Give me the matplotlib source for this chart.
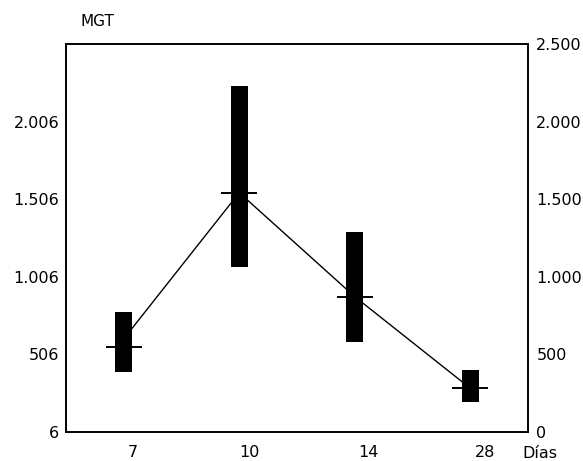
import matplotlib
matplotlib.use("Agg")
import matplotlib.pyplot as plt

# ---- data ----
days = ["7", "10", "14", "28"]
bar_low = [389, 1065, 582, 195]
bar_high = [775, 2229, 1287, 400]
mean_vals = [550, 1542, 872, 282]
line_vals = [600, 1542, 872, 282]

right_ticks = [0, 500, 1000, 1500, 2000, 2500]
right_labels = ["0", "500", "1.000", "1.500", "2.000", "2.500"]
left_ticks = [0, 500, 1000, 1500, 2000]
left_labels = ["6", "506", "1.006", "1.506", "2.006"]

plt.rcParams['font.family'] = ['DejaVu Sans']

fig = plt.figure(figsize=(5.83, 4.61), dpi=100)
ax = fig.add_axes([66 / 583, 29 / 461, 462 / 583, 388 / 461])

pos = list(range(1, len(days) + 1))
bar_w = 0.15
tick_half = 0.155

# connecting line (drawn beneath the bars)
ax.plot(pos, line_vals, color="black", lw=1.0, zorder=1)

# bars
ax.bar(pos, [h - l for h, l in zip(bar_high, bar_low)], bottom=bar_low,
       width=bar_w, color="black", zorder=2)

# mean ticks
ax.hlines(mean_vals, [p - tick_half for p in pos], [p + tick_half for p in pos],
          color="black", lw=1.4, zorder=3)

ax.set_xlim(0.5, 4.5)
ax.set_ylim(0, 2500)

label_offset = [0.08, 0.09, 0.12, 0.13]
ax.set_xticks([p + o for p, o in zip(pos, label_offset)])
ax.set_xticklabels(days, fontsize=11.5)
ax.tick_params(axis="x", length=0, pad=9)

ax.set_yticks(left_ticks)
ax.set_yticklabels(left_labels, fontsize=11.5)
ax.tick_params(axis="y", length=0, pad=5)

ax2 = ax.twinx()
ax2.set_ylim(0, 2500)
ax2.set_yticks(right_ticks)
ax2.set_yticklabels(right_labels, fontsize=11.5)
ax2.tick_params(axis="y", length=0, pad=6)

for a in (ax, ax2):
    for s in a.spines.values():
        s.set_linewidth(1.2)

fig.text(80 / 583, 1 - 22 / 461, "MGT", fontsize=11, ha="left", va="center")
fig.text(540 / 583, 1 - 453 / 461, "Días", fontsize=11.5, ha="center", va="center")

fig.savefig("out.png", dpi=100)
